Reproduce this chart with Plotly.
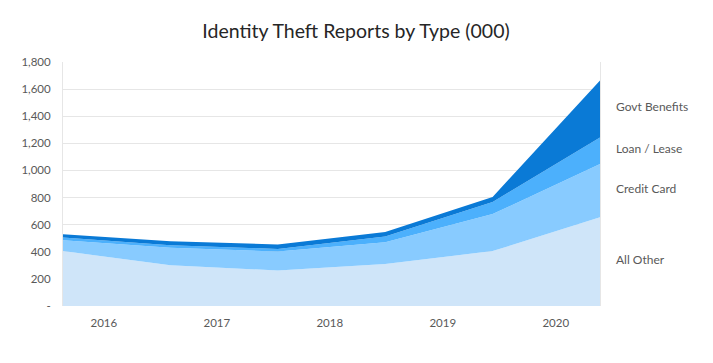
import plotly.graph_objects as go

periods = [0, 1, 2, 3, 4, 5]
year_labels = ["2016", "2017", "2018", "2019", "2020"]
series_names = ["All Other", "Credit Card", "Loan / Lease", "Govt Benefits"]
all_other = [405, 300, 262, 310, 405, 654]
credit_card = [80, 130, 140, 160, 273, 394]
loan_lease = [20, 18, 19, 42, 90, 195]
govt_benefits = [25, 30, 33, 33, 37, 421]
colors = ["#cfe5f9", "#88cbff", "#4cb0fc", "#0a7ad6"]

series = [all_other, credit_card, loan_lease, govt_benefits]

fig = go.Figure()
for name, vals, col in zip(series_names, series, colors):
    fig.add_trace(go.Scatter(
        x=periods, y=vals, name=name, mode="lines",
        stackgroup="one", line=dict(width=0, color=col),
        fillcolor=col, hoverinfo="skip"))

# right-side labels at band midpoints of last period
cum = 0
for name, vals in zip(series_names, series):
    mid = cum + vals[-1] / 2
    cum += vals[-1]
    fig.add_annotation(x=1, xref="paper", y=mid, yref="y", xanchor="left",
                       xshift=14, yshift=2, text=name, showarrow=False,
                       font=dict(size=12, color="#595959", family="Lato"))

tick_pos = [0.38 + 1.052 * i for i in range(len(year_labels))]

fig.update_layout(
    width=705, height=355,
    margin=dict(l=55, r=113, t=54, b=57),
    paper_bgcolor="white", plot_bgcolor="white",
    showlegend=False,
    font=dict(family="Lato", color="#595959", size=11),
    title=dict(text="Identity Theft Reports by Type (000)", x=0.4936, xanchor="center",
               y=0.935, yanchor="middle",
               font=dict(size=19.5, color="#262626", family="Lato")),
    xaxis=dict(range=[0, 5], tickvals=tick_pos, ticktext=year_labels,
               showgrid=False, zeroline=False, showline=False, ticks="",
               ticklabelstandoff=8,
               tickfont=dict(size=11.5, color="#595959")),
    yaxis=dict(range=[0, 1800], tickvals=list(range(0, 1801, 200)),
               ticktext=["-"] + [f"{v:,}" for v in range(200, 1801, 200)],
               showgrid=True, gridcolor="#e6e6e6", gridwidth=1,
               zeroline=False, showline=True, linecolor="#e6e6e6", mirror=True,
               ticks="", ticklabelstandoff=9,
               tickfont=dict(size=11.5, color="#595959")),
)

fig.write_html("out.html")
